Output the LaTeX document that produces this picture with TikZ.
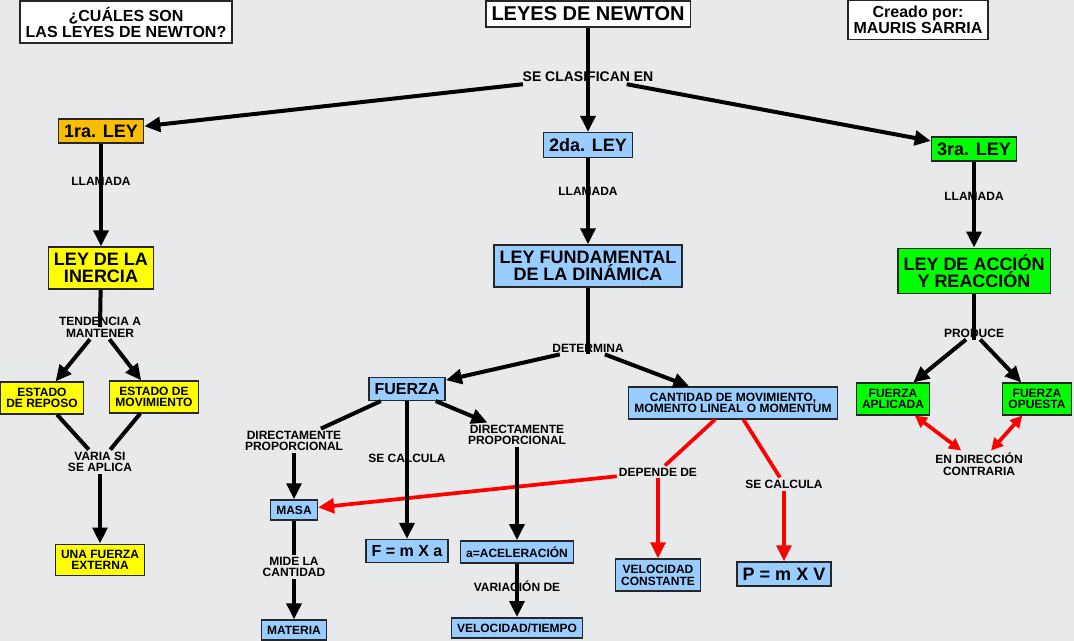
\documentclass[tikz,border=0pt]{standalone}
\usepackage{fontspec}
\setmainfont{Liberation Sans}
\usepackage{tikz}
\usetikzlibrary{arrows.meta}
\definecolor{mapbg}{RGB}{231,233,235}
\definecolor{leyorange}{RGB}{250,190,0}
\definecolor{leyyellow}{RGB}{255,255,0}
\definecolor{leyblue}{RGB}{153,204,255}
\definecolor{leygreen}{RGB}{0,255,0}
\definecolor{linkred}{RGB}{255,0,0}
\newcommand{\titlefont}{\fontsize{15}{15}\selectfont\bfseries}
\newcommand{\headfont}{\fontsize{12}{12}\selectfont\bfseries}
\newcommand{\leyfont}{\fontsize{13.5}{13.3}\selectfont\bfseries}
\newcommand{\clasfont}{\fontsize{10.5}{10.5}\selectfont\bfseries}
\newcommand{\smallfont}{\fontsize{9}{8.8}\selectfont\bfseries}

\begin{document}
\begin{tikzpicture}[x=0.75pt, y=-0.75pt, every node/.style={align=center},
    concept/.style={draw=black!85, line width=1.1pt, inner sep=4.3pt, font=\smallfont},
    phrase/.style={inner sep=1.5pt, font=\smallfont},
    line/.style={line width=3pt},
    arrow/.style={line width=3pt, -{Triangle[length=12pt,width=11pt]}},
    redline/.style={line width=2.8pt, linkred},
    redarrow/.style={line width=2.8pt, linkred, -{Triangle[length=12pt,width=11pt]}},
    redboth/.style={line width=2.8pt, linkred, {Triangle[length=9pt,width=9pt]}-{Triangle[length=9pt,width=9pt]}}]
    \useasboundingbox (0,0) rectangle (1074,641);
    \fill[mapbg] (0,0) rectangle (1074,641);

    % cabecera
    \node[concept, fill=white, font=\headfont] (quest) at (126,22) {¿CUÁLES SON\\LAS LEYES DE NEWTON?};
    \node[concept, fill=white, font=\titlefont] (newton) at (588,14) {LEYES DE NEWTON};
    \node[concept, fill=white, font=\headfont] (autor) at (918,20) {Creado por:\\MAURIS SARRIA};
    \node[phrase, font=\clasfont] (clasif) at (588,77) {SE CLASIFICAN EN};

    % las tres leyes
    \node[concept, fill=leyorange, font=\leyfont] (ley1) at (101,131) {1ra. LEY};
    \node[concept, fill=leyblue, font=\leyfont] (ley2) at (588,145) {2da. LEY};
    \node[concept, fill=leygreen, font=\leyfont] (ley3) at (974,149) {3ra. LEY};
    \node[phrase] (llam1) at (101,181) {LLAMADA};
    \node[phrase] (llam2) at (588,191) {LLAMADA};
    \node[phrase] (llam3) at (974,196) {LLAMADA};
    \node[concept, fill=leyyellow, font=\leyfont] (inercia) at (101,268) {LEY DE LA\\INERCIA};
    \node[concept, fill=leyblue, font=\leyfont] (fundamental) at (588,266) {LEY FUNDAMENTAL\\DE LA DINÁMICA};
    \node[concept, fill=leygreen, font=\leyfont] (accion) at (974,271) {LEY DE ACCIÓN\\Y REACCIÓN};

    % primera ley
    \node[phrase] (tendencia) at (100,327) {TENDENCIA A\\MANTENER};
    \node[concept, fill=leyyellow] (reposo) at (42,398) {ESTADO\\DE REPOSO};
    \node[concept, fill=leyyellow] (movim) at (154,397) {ESTADO DE\\MOVIMIENTO};
    \node[phrase] (varia) at (100,462) {VARIA SI\\SE APLICA};
    \node[concept, fill=leyyellow] (externa) at (100,560) {UNA FUERZA\\EXTERNA};

    % segunda ley
    \node[phrase] (determina) at (588,348) {DETERMINA};
    \node[concept, fill=leyblue, font=\headfont] (fuerza) at (407,389) {FUERZA};
    \node[concept, fill=leyblue] (cantidad) at (733,403) {CANTIDAD DE MOVIMIENTO,\\MOMENTO LINEAL O MOMENTUM};
    \node[phrase] (dprop1) at (294,441) {DIRECTAMENTE\\PROPORCIONAL};
    \node[phrase] (secalc1) at (407,458) {SE CALCULA};
    \node[phrase] (dprop2) at (517,435) {DIRECTAMENTE\\PROPORCIONAL};
    \node[concept, fill=leyblue] (masa) at (294,510) {MASA};
    \node[concept, fill=leyblue, font=\headfont] (fma) at (407,551) {F = m X a};
    \node[concept, fill=leyblue] (acel) at (517,552) {a=ACELERACIÓN};
    \node[phrase] (mide) at (294,567) {MIDE LA\\CANTIDAD};
    \node[concept, fill=leyblue] (materia) at (294,630) {MATERIA};
    \node[phrase] (variacion) at (517,586) {VARIACIÓN DE};
    \node[concept, fill=leyblue] (veltiempo) at (517,628) {VELOCIDAD/TIEMPO};
    \node[phrase] (depende) at (658,472) {DEPENDE DE};
    \node[phrase] (secalc2) at (784,484) {SE CALCULA};
    \node[concept, fill=leyblue] (velconst) at (658,575) {VELOCIDAD\\CONSTANTE};
    \node[concept, fill=leyblue, font=\leyfont] (pmv) at (784,574) {P = m X V};

    % tercera ley
    \node[phrase] (produce) at (974,333) {PRODUCE};
    \node[concept, fill=leygreen] (aplicada) at (893,399) {FUERZA\\APLICADA};
    \node[concept, fill=leygreen] (opuesta) at (1037,399) {FUERZA\\OPUESTA};
    \node[phrase] (contraria) at (979,464) {EN DIRECCIÓN\\CONTRARIA};

    % conexiones en rojo
    \draw[redline] (cantidad) -- (depende);
    \draw[redarrow] (depende) -- (masa);
    \draw[redarrow] (depende) -- (velconst);
    \draw[redline] (cantidad) -- (secalc2);
    \draw[redarrow] (secalc2) -- (pmv);
    \draw[redboth] (aplicada) -- (contraria);
    \draw[redboth] (opuesta) -- (contraria);

    % conexiones en negro
    \draw[line] (newton) -- (clasif.south);
    \draw[arrow] (clasif) -- (ley1);
    \draw[arrow] (clasif.south) -- (ley2);
    \draw[arrow] (clasif) -- (ley3);
    \draw[line] (ley1) -- (llam1.south);
    \draw[arrow] (llam1.south) -- (inercia);
    \draw[line] (ley2) -- (llam2.south);
    \draw[arrow] (llam2.south) -- (fundamental);
    \draw[line] (ley3) -- (llam3.south);
    \draw[arrow] (llam3.south) -- (accion);

    \draw[line] (inercia) -- (tendencia.center);
    \draw[arrow] (tendencia) -- (reposo);
    \draw[arrow] (tendencia) -- (movim);
    \draw[line] (reposo) -- (varia);
    \draw[line] (movim) -- (varia);
    \draw[arrow] (varia) -- (externa);

    \draw[line] (fundamental) -- (determina.south);
    \draw[arrow] (determina) -- (fuerza);
    \draw[arrow] (determina) -- (cantidad);
    \draw[line] (fuerza) -- (dprop1);
    \draw[arrow] (dprop1) -- (masa);
    \draw[line] (fuerza) -- (secalc1.south);
    \draw[arrow] (secalc1.south) -- (fma);
    \draw[arrow] (fuerza) -- (dprop2);
    \draw[arrow] (dprop2) -- (acel);
    \draw[line] (masa) -- (mide);
    \draw[arrow] (mide) -- (materia);
    \draw[line] (acel) -- (variacion.south);
    \draw[arrow] (variacion.south) -- (veltiempo);

    \draw[line] (accion) -- (produce.south);
    \draw[arrow] (produce) -- (aplicada);
    \draw[arrow] (produce) -- (opuesta);
\end{tikzpicture}
\end{document}
